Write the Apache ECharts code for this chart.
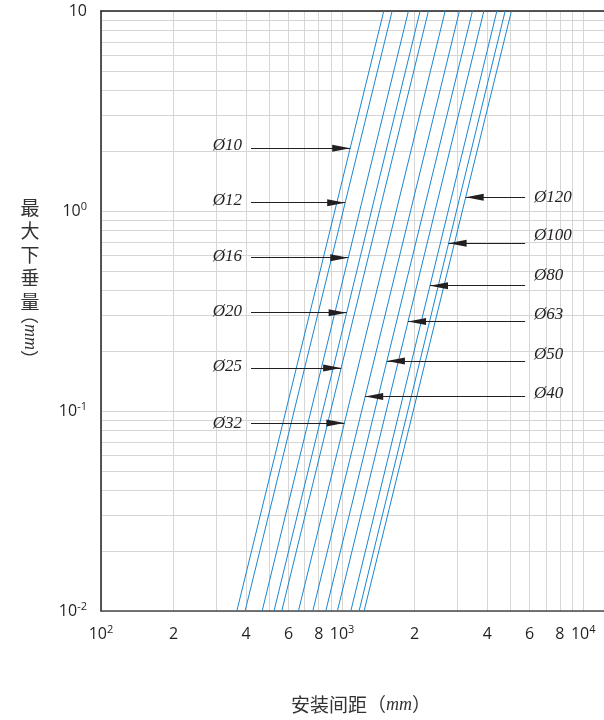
<!DOCTYPE html>
<html><head><meta charset="utf-8">
<script src="https://cdn.jsdelivr.net/npm/echarts@6/dist/echarts.min.js"></script>
<style>html,body{margin:0;padding:0;background:#fff}#c{width:604px;height:720px}</style>
</head><body><div id="c"></div>
<script>
// ---- data ----
const diameters = ['Ø10','Ø12','Ø16','Ø20','Ø25','Ø32','Ø40','Ø50','Ø63','Ø80','Ø100','Ø120'];
const spacingAtMinDefl = [366,396,466,522,562,659,756,856,956,1087,1176,1234];
const spacingAtMaxDefl = [1489,1613,1884,2107,2281,2676,3067,3473,3873,4385,4746,5040];
const deflMin = 0.01, deflMax = 10;
const xMin = 100, xMax = 12200;
const xGridValues = [100,200,300,400,500,600,700,800,900,1000,2000,3000,4000,5000,6000,7000,8000,9000,10000];
const xLabelValues = [100,200,400,600,800,1000,2000,4000,6000,8000,10000];
const yGridValues = [0.01,0.02,0.03,0.04,0.05,0.06,0.07,0.08,0.09,0.1,0.2,0.3,0.4,0.5,0.6,0.7,0.8,0.9,1,2,3,4,5,6,7,8,9,10];
const yLabelValues = [0.01,0.1,1,10];
// annotation anchors (deflection where each callout arrow sits)
const calloutDefl = [2.06,1.10,0.584,0.31,0.164,0.087,0.118,0.178,0.28,0.423,0.69,1.17];
const calloutSide = ['left','left','left','left','left','left','right','right','right','right','right','right'];
const calloutStartLeft = 419, calloutStartRight = 5741;
const calloutLift = [3,2,1,1,1,0,3,6,7,10,8,0];

// ---- helpers ----
const lg = Math.log10;
function spacingOnLine(i, f) {
  const l0 = lg(spacingAtMinDefl[i]), l1 = lg(spacingAtMaxDefl[i]);
  const t = (lg(f) - lg(deflMin)) / (lg(deflMax) - lg(deflMin));
  return Math.pow(10, l0 + t * (l1 - l0));
}
const INK = '#231f20';
const supX = {100:'2',1000:'3',10000:'4'};
const richNum = {
  b:{fontFamily:'Open Sans',fontSize:16,color:INK,lineHeight:20},
  s:{fontFamily:'Open Sans',fontSize:11,color:INK,lineHeight:12,verticalAlign:'top'}
};

const series = diameters.map((name, i) => {
  const f = calloutDefl[i];
  const left = calloutSide[i] === 'left';
  const startL = left ? calloutStartLeft : calloutStartRight;
  const lift = calloutLift[i];
  return {
    type:'line', name, silent:true, symbol:'none',
    lineStyle:{color:'#1b86cf', width:1},
    data:[[spacingAtMinDefl[i], deflMin],[spacingAtMaxDefl[i], deflMax]],
    markLine:{
      silent:true, animation:false,
      symbol:['none', 'triangle'], symbolSize:[7, 18], symbolOffset:[0, [0, 9]],
      lineStyle:{color:INK, width:1, type:'solid'},
      label:{show:true, position:'start', distance:9, formatter:name,
        fontFamily:'Liberation Serif', fontStyle:'italic', fontSize:17, color:INK,
        verticalAlign: lift > 0 ? 'bottom' : 'middle', lineHeight: lift > 0 ? lift*2 : 20},
      emphasis:{disabled:true},
      data:[[{coord:[startL, f]},{coord:[spacingOnLine(i, f), f]}]]
    }
  };
});

const chart = echarts.init(document.getElementById('c'), null, {renderer:'canvas'});
chart.setOption({
  animation:false,
  backgroundColor:'#fff',
  grid:{left:101, right:0, top:11, bottom:109, containLabel:false},
  xAxis:[{
    type:'log', logBase:10, min:xMin, max:xMax,
    axisLine:{show:true, lineStyle:{color:'#4a4a4a', width:1.5}},
    axisTick:{show:false, customValues:xGridValues},
    splitLine:{show:true, lineStyle:{color:'#d6d6d6', width:1}},
    minorSplitLine:{show:false},
    axisLabel:{customValues:xLabelValues, margin:13,
      formatter:v => { const r = Math.round(v); return supX[r] ? '{b|10}{s|'+supX[r]+'}' : '{b|'+String(r).charAt(0)+'}'; },
      rich:richNum}
  },{
    type:'log', logBase:10, min:xMin, max:xMax, position:'top',
    axisLine:{show:true, lineStyle:{color:INK, width:1.5}},
    axisTick:{show:false}, axisLabel:{show:false}, splitLine:{show:false}
  }],
  yAxis:{
    type:'log', logBase:10, min:deflMin, max:deflMax,
    axisLine:{show:true, lineStyle:{color:INK, width:1.5}},
    axisTick:{show:false, customValues:yGridValues},
    splitLine:{show:true, lineStyle:{color:'#d6d6d6', width:1}},
    axisLabel:{customValues:yLabelValues, margin:14,
      formatter:v => {
        const e = Math.round(lg(v));
        if (e === 1) return '{b|10}';
        return '{b|10}{s|'+e+'}';
      }, rich:richNum}
  },
  graphic:[
    {type:'text', x:30, y:196, style:{text:'最\n大\n下\n垂\n量', fill:'#333', fontFamily:'Noto Sans CJK SC', fontSize:19, lineHeight:23.5, align:'center', verticalAlign:'top'}},
    {type:'text', x:30, y:337, rotation:-Math.PI/2, style:{text:'（{i|mm}）', fill:'#333', fontFamily:'Noto Sans CJK SC', fontSize:18, align:'center', verticalAlign:'middle',
      rich:{i:{fontFamily:'Liberation Serif', fontStyle:'italic', fontSize:18, fill:'#333'}}}},
    {type:'text', x:361, y:705, style:{text:'安装间距（{i|mm}）', fill:'#333', fontFamily:'Noto Sans CJK SC', fontSize:19, align:'center', verticalAlign:'middle',
      rich:{i:{fontFamily:'Liberation Serif', fontStyle:'italic', fontSize:18, fill:'#333'}}}}
  ],
  series
});
</script></body></html>
